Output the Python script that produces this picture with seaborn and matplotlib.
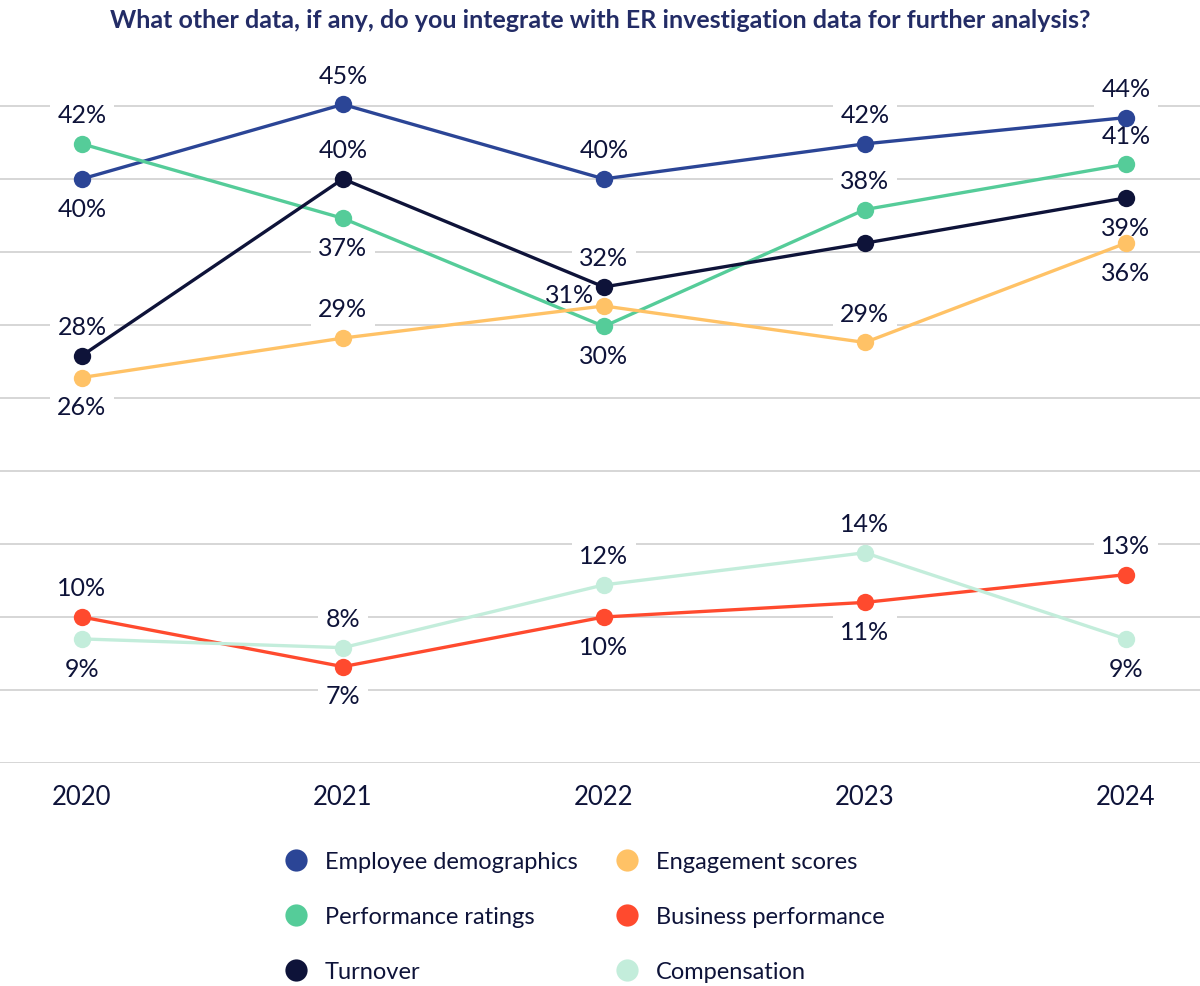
import matplotlib
matplotlib.use("Agg")
import matplotlib.pyplot as plt
from matplotlib.lines import Line2D
import seaborn as sns
import pandas as pd

# ---------------- data ----------------
years = [2020, 2021, 2022, 2023, 2024]
series_names = ["Employee demographics", "Performance ratings", "Turnover",
                "Engagement scores", "Business performance", "Compensation"]
employee_demographics = [40.0, 45.1, 40.0, 42.4, 44.2]
performance_ratings = [42.4, 37.3, 29.9, 37.9, 41.0]
turnover = [27.9, 40.0, 32.6, 35.6, 38.7]
engagement_scores = [26.4, 29.1, 31.3, 28.8, 35.6]
business_performance = [10.0, 6.6, 10.0, 11.0, 12.9]
compensation = [8.5, 7.9, 12.2, 14.4, 8.5]

employee_labels = ["40%", "45%", "40%", "42%", "44%"]
performance_labels = ["42%", "37%", "30%", "38%", "41%"]
turnover_labels = ["28%", "40%", "32%", None, "39%"]
engagement_labels = ["26%", "29%", "31%", "29%", "36%"]
business_labels = ["10%", "7%", "10%", "11%", "13%"]
compensation_labels = ["9%", "8%", "12%", "14%", "9%"]

title_text = "What other data, if any, do you integrate with ER investigation data for further analysis?"

# ---------------- style ----------------
colors = ["#2B4596", "#55CC99", "#0E1339", "#FFC266", "#FF4A2E", "#C3EDDB"]
text_color = "#0E1339"
# label placement: (dx, dy) in points
up, down = (0, 21), (0, -21)
employee_pos = [down, up, up, up, up]
performance_pos = [up, down, down, up, up]
turnover_pos = [up, up, up, None, down]
engagement_pos = [down, up, (-25, 8), up, down]
business_pos = [up, down, down, down, up]
compensation_pos = [down, up, up, up, down]

all_values = [employee_demographics, performance_ratings, turnover,
              engagement_scores, business_performance, compensation]
all_labels = [employee_labels, performance_labels, turnover_labels,
              engagement_labels, business_labels, compensation_labels]
all_pos = [employee_pos, performance_pos, turnover_pos,
           engagement_pos, business_pos, compensation_pos]

rows = []
for name, vals in zip(series_names, all_values):
    for y, v in zip(years, vals):
        rows.append({"Year": y, "Value": v, "Series": name})
df = pd.DataFrame(rows)

sns.set_theme(style="white")
plt.rcParams["font.family"] = ["Lato", "DejaVu Sans"]

fig = plt.figure(figsize=(12, 9.87), dpi=100)
ax = fig.add_axes([0.0, 0.2259, 1.0, 0.7102])

palette = dict(zip(series_names, colors))
sns.lineplot(data=df, x="Year", y="Value", hue="Series", hue_order=series_names,
             palette=palette, marker="o", markersize=12.5, markeredgewidth=0,
             linewidth=2.4, legend=False, ax=ax, zorder=3)

ax.set_xlim(2020 - 0.314, 2024 + 0.284)
ax.set_ylim(0, 48)
ax.set_yticks([0, 5, 10, 15, 20, 25, 30, 35, 40, 45])
ax.set_yticklabels([])
ax.yaxis.grid(True, color="#D3D3D3", linewidth=1.3)
ax.xaxis.grid(False)
ax.set_axisbelow(True)
for s in ax.spines.values():
    s.set_visible(False)
ax.set_xticks(years)
ax.set_xticklabels([str(y) for y in years])
ax.tick_params(axis="x", length=0, pad=15, labelsize=18.5, labelcolor=text_color)
ax.tick_params(axis="y", length=0)
ax.set_xlabel("")
ax.set_ylabel("")

for vals, labs, poss in zip(all_values, all_labels, all_pos):
    for x, v, lab, p in zip(years, vals, labs, poss):
        if lab is None:
            continue
        ax.annotate(lab, (x, v), xytext=p, textcoords="offset points",
                    ha="center", va="center", fontsize=18, color=text_color,
                    zorder=1.5,
                    bbox=dict(boxstyle="square,pad=0.3", fc="white", ec="none"))

fig.text(0.5, 1 - 20 / 987, title_text, ha="center", va="center",
         fontsize=18, fontweight="bold", color="#232C66")

handles = [Line2D([0], [0], marker="o", linestyle="none", markersize=16,
                  markerfacecolor=c, markeredgewidth=0) for c in colors]
fig.legend(handles, series_names, loc="upper left",
           bbox_to_anchor=(284 / 1200, 1 - 852 / 987), ncol=2, frameon=False,
           fontsize=17, labelcolor=text_color, handlelength=1.0,
           handletextpad=0.73, labelspacing=1.45, columnspacing=1.6,
           borderpad=0, borderaxespad=0)

fig.savefig("out.png", dpi=100, facecolor="white")
